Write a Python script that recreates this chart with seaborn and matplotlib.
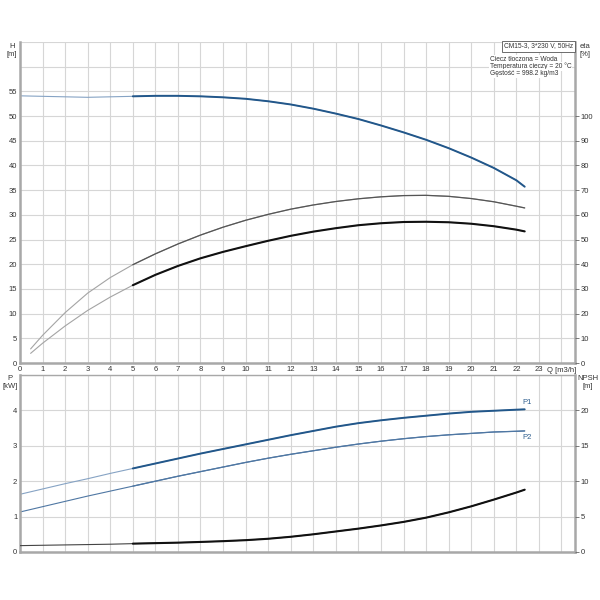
import numpy as np
import pandas as pd
import matplotlib
matplotlib.use("Agg")
import matplotlib.pyplot as plt
import seaborn as sns

# ====== DATA ======
q_h = [0, 1, 2, 3, 4, 5, 6, 7, 8, 9, 10, 11, 12, 13, 14, 15, 16, 17, 18, 19, 20, 21, 22, 22.37]
head = [54.1, 54.0, 53.9, 53.8, 53.9, 54.0, 54.1, 54.1, 54.0, 53.8, 53.5, 53.0, 52.35, 51.5,
        50.5, 49.4, 48.1, 46.7, 45.2, 43.5, 41.6, 39.5, 37.0, 35.7]

q_eta = [0.47, 1, 2, 3, 4, 5, 6, 7, 8, 9, 10, 11, 12, 13, 14, 15, 16, 17, 18, 19, 20, 21, 22, 22.37]
eta_pump = [5.7, 11.2, 20.4, 28.3, 34.6, 39.8, 44.2, 48.2, 51.8, 55.0, 57.8, 60.2, 62.3, 64.0,
            65.4, 66.5, 67.3, 67.8, 67.9, 67.5, 66.6, 65.3, 63.5, 62.8]
eta_total = [3.9, 8.0, 15.0, 21.3, 26.7, 31.5, 35.7, 39.3, 42.4, 45.0, 47.3, 49.5, 51.5, 53.2,
             54.6, 55.8, 56.6, 57.1, 57.2, 57.0, 56.4, 55.4, 54.0, 53.3]

q_b = [0, 1, 2, 3, 4, 5, 6, 7, 8, 9, 10, 11, 12, 13, 14, 15, 16, 17, 18, 19, 20, 21, 22, 22.37]
p1 = [1.63, 1.78, 1.93, 2.07, 2.22, 2.36, 2.50, 2.64, 2.78, 2.91, 3.04, 3.17, 3.30, 3.42,
      3.54, 3.64, 3.72, 3.79, 3.85, 3.91, 3.96, 3.99, 4.02, 4.03]
p2 = [1.13, 1.28, 1.43, 1.58, 1.72, 1.86, 2.00, 2.14, 2.27, 2.40, 2.53, 2.65, 2.76, 2.86,
      2.96, 3.05, 3.13, 3.20, 3.26, 3.31, 3.35, 3.39, 3.41, 3.42]
npsh = [0.9, 0.95, 1.0, 1.05, 1.1, 1.18, 1.25, 1.32, 1.42, 1.53, 1.67, 1.87, 2.15, 2.5,
        2.9, 3.3, 3.75, 4.25, 4.85, 5.6, 6.45, 7.4, 8.4, 8.8]

h_ticks = list(range(0, 70, 5))
eta_ticks = list(range(0, 110, 10))
p_ticks = list(range(0, 6))
npsh_ticks = [0, 5, 10, 15, 20]

info_title = "CM15-3, 3*230 V, 50Hz"
info_lines = ["Ciecz tłoczona = Woda", "Temperatura cieczy = 20 °C", "Gęstość = 998.2 kg/m3"]
Q_SPLIT = 5  # curves are drawn thin below this flow

sns.set_theme(style="white")
plt.rcParams["font.family"] = ["Liberation Sans", "DejaVu Sans"]

BLUE = "#22578a"
BLUE_LIGHT = "#86a3c4"
GRID = "#d6d6d6"
SPINE = "#a8a8a8"
TXT = "#333333"
FS = 5.5


def curve(ax, q, v, thin_color, thick_color, thick_lw, thin_lw=0.8):
    df = pd.DataFrame({"q": q, "v": v})
    sns.lineplot(data=df, x="q", y="v", ax=ax, color=thin_color, lw=thin_lw)
    part = df[df["q"] >= Q_SPLIT]
    sns.lineplot(data=part, x="q", y="v", ax=ax, color=thick_color, lw=thick_lw)
    ax.set_xlabel("")
    ax.set_ylabel("")


def style_axes(ax, ylim, yticks, last_label, show_x):
    ax.set_xlim(0, 24.6)
    ax.set_ylim(*ylim)
    ax.set_xticks(list(range(0, 25)))
    ax.set_yticks(yticks)
    ax.set_yticklabels([str(t) if t <= last_label else "" for t in yticks])
    ax.grid(True, color=GRID, lw=0.8)
    ax.set_axisbelow(True)
    for s in ["left", "right", "bottom"]:
        ax.spines[s].set_color(SPINE)
        ax.spines[s].set_linewidth(1.8)
    ax.tick_params(axis="both", length=0, labelsize=FS, colors=TXT, pad=2)
    if show_x:
        ax.set_xticklabels([str(t) if t <= 23 else "" for t in range(0, 25)])
    else:
        ax.set_xticklabels([])


def style_twin(ax, ylim, yticks):
    ax.set_ylim(*ylim)
    ax.set_yticks(yticks)
    ax.tick_params(axis="y", length=3, width=0.6, color="#666666", labelsize=FS,
                   colors=TXT, pad=1)
    ax.grid(False)
    for s in ax.spines.values():
        s.set_visible(False)


fig = plt.figure(figsize=(6, 6), dpi=100)
ax_h = fig.add_axes([20 / 600, 1 - 363 / 600, 555 / 600, 321 / 600])
ax_p = fig.add_axes([20 / 600, 1 - 552 / 600, 555 / 600, 177 / 600])

# ====== TOP: head and efficiency ======
curve(ax_h, q_h, head, BLUE_LIGHT, BLUE, 1.4)
style_axes(ax_h, (0, 65), h_ticks, 55, True)
ax_h.spines["top"].set_visible(False)

ax_eta = ax_h.twinx()
curve(ax_eta, q_eta, eta_pump, "#a4a4a4", "#555555", 0.9)
curve(ax_eta, q_eta, eta_total, "#a4a4a4", "#111111", 1.5)
style_twin(ax_eta, (0, 130), eta_ticks)

# ====== BOTTOM: power and NPSH ======
curve(ax_p, q_b, p1, BLUE_LIGHT, BLUE, 1.4)
curve(ax_p, q_b, p2, "#4f77a3", "#4f77a3", 0.9)
style_axes(ax_p, (0, 5), p_ticks, 4, False)
ax_p.spines["top"].set_color(SPINE)
ax_p.spines["top"].set_linewidth(1.0)

ax_n = ax_p.twinx()
curve(ax_n, q_b, npsh, "#444444", "#111111", 1.5)
style_twin(ax_n, (0, 25), npsh_ticks)

# ====== LABELS ======
kw = dict(fontsize=FS, color=TXT, ha="center", va="center")
fig.text(12 / 600, 1 - 46 / 600, "H", **kw)
fig.text(12 / 600, 1 - 54 / 600, "[m]", **kw)
fig.text(585 / 600, 1 - 46 / 600, "eta", **kw)
fig.text(585 / 600, 1 - 54 / 600, "[%]", **kw)
fig.text(547 / 600, 1 - 370 / 600, "Q [m3/h]", fontsize=FS, color=TXT,
         ha="left", va="center")
fig.text(10 / 600, 1 - 379 / 600, "P", **kw)
fig.text(10 / 600, 1 - 387 / 600, "[kW]", **kw)
fig.text(588 / 600, 1 - 379 / 600, "NPSH", **kw)
fig.text(588 / 600, 1 - 387 / 600, "[m]", **kw)

ax_p.text(q_b[-1] + 0.1, p1[-1] + 0.1, "P1", fontsize=FS, color="#2f5f8f",
          va="bottom", ha="center")
ax_p.text(q_b[-1] + 0.1, p2[-1] - 0.1, "P2", fontsize=FS, color="#2f5f8f",
          va="top", ha="center")

INFO_FS = 4.8
fig.text(573 / 600, 1 - 46 / 600, info_title, fontsize=INFO_FS, color=TXT, ha="right",
         va="center", bbox=dict(boxstyle="square,pad=0.3", fc="white", ec="#555555", lw=0.6))
for i, line in enumerate(info_lines):
    fig.text(490 / 600, 1 - (59.5 + 7 * i) / 600, line, fontsize=INFO_FS, color=TXT,
             ha="left", va="center",
             bbox=dict(boxstyle="square,pad=0.1", fc="white", ec="none"))

fig.savefig("out.png", dpi=100)
